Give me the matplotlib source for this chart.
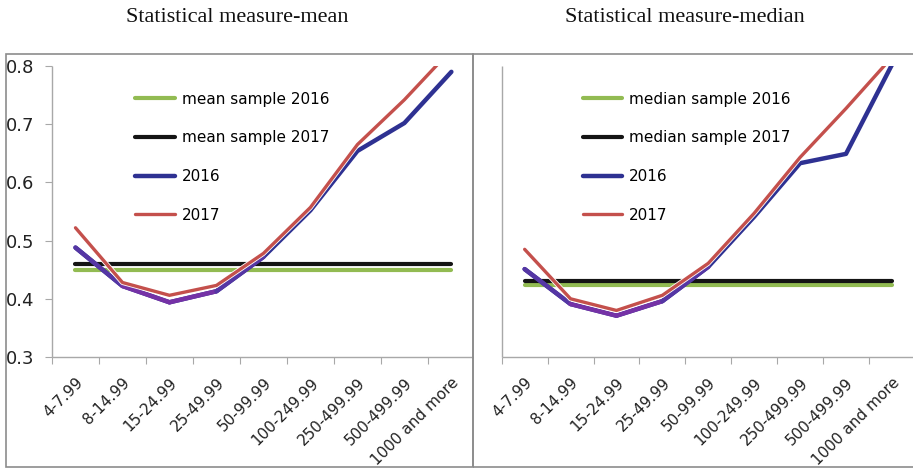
import matplotlib.pyplot as plt
import matplotlib.patheffects as pe
from matplotlib.patches import Rectangle
import numpy as np

categories = ["4-7.99", "8-14.99", "15-24.99", "25-49.99", "50-99.99",
              "100-249.99", "250-499.99", "500-499.99", "1000 and more"]

# mean panel
mean_2016 = [0.488, 0.422, 0.394, 0.413, 0.472, 0.552, 0.654, 0.702, 0.790]
mean_2017 = [0.522, 0.428, 0.406, 0.423, 0.478, 0.557, 0.665, 0.742, 0.828]
mean_sample_2016 = 0.45
mean_sample_2017 = 0.46

# median panel
median_2016 = [0.451, 0.391, 0.371, 0.396, 0.455, 0.541, 0.633, 0.649, 0.802]
median_2017 = [0.485, 0.400, 0.380, 0.406, 0.461, 0.547, 0.643, 0.727, 0.815]
median_sample_2016 = 0.423
median_sample_2017 = 0.430

titles = ["Statistical measure-mean", "Statistical measure-median"]
yticks = [0.3, 0.4, 0.5, 0.6, 0.7, 0.8]

GREEN = "#92bb52"
BLACK = "#141414"
NAVY = "#2e3192"
PURPLE = "#7532a6"
MIX = "#5536a4"
RED = "#c4504c"
W, H = 913, 469

fig = plt.figure(figsize=(W / 100, H / 100), dpi=100)


def px(x0, y0, x1, y1):
    return [x0 / W, 1 - y1 / H, (x1 - x0) / W, (y1 - y0) / H]


def panel(ax, v16, v17, s16, s17, lab16, lab17, show_y):
    x = np.arange(len(categories))
    ax.plot([x[0], x[-1]], [s16, s16], color=GREEN, lw=3, solid_capstyle="round", label=lab16)
    ax.plot([x[0], x[-1]], [s17, s17], color=BLACK, lw=3, solid_capstyle="round", label=lab17)
    ax.plot(x, v16, color=NAVY, lw=3.2, solid_capstyle="round", solid_joinstyle="round", label="2016")
    # colour shift of the 2016 line near its low point
    segcols = [MIX, PURPLE, PURPLE, MIX]
    for i, c in enumerate(segcols):
        ax.plot(x[i:i + 2], v16[i:i + 2], color=c, lw=3.2, solid_capstyle="round")
    ax.plot(x, v17, color=RED, lw=2.4, solid_capstyle="round", solid_joinstyle="round", label="2017",
            path_effects=[pe.Stroke(linewidth=3.6, foreground="white"), pe.Normal()])

    ax.set_xlim(-0.5, 8.46)
    ax.set_ylim(0.3, 0.8)
    for s in ["top", "right"]:
        ax.spines[s].set_visible(False)
    for s in ["left", "bottom"]:
        ax.spines[s].set_color("#a8a8a8")
        ax.spines[s].set_linewidth(1.0)
        ax.spines[s].set_capstyle("butt")

    ax.set_xticks(np.arange(-0.5, 8.0, 1))
    ax.set_xticklabels([])
    ax.set_xticks(x, minor=True)
    ax.set_xticklabels(categories, minor=True, fontsize=11, color="#222222")
    ax.tick_params(axis="x", which="major", length=5, color="#a8a8a8", direction="out")
    ax.tick_params(axis="x", which="minor", length=0, pad=13)
    for lab in ax.get_xticklabels(minor=True):
        lab.set_rotation(45)
        lab.set_ha("right")
        lab.set_va("top")
        lab.set_rotation_mode("anchor")

    ax.set_yticks(yticks)
    if show_y:
        ax.set_yticklabels([f"{v:.1f}" for v in yticks], fontsize=13, color="#222222")
        ax.tick_params(axis="y", length=5, color="#a8a8a8", pad=8)
    else:
        ax.set_yticklabels([])
        ax.tick_params(axis="y", length=0)

    ax.legend(loc="upper left", bbox_to_anchor=(0.197, 0.912), frameon=False, fontsize=11,
              handlelength=2.6, handletextpad=0.45, labelspacing=1.55, borderpad=0,
              borderaxespad=0)


ax1 = fig.add_axes(px(52, 66, 473, 357))
panel(ax1, mean_2016, mean_2017, mean_sample_2016, mean_sample_2017,
      "mean sample 2016", "mean sample 2017", True)
ax2 = fig.add_axes(px(501.7, 66, 913, 357))
panel(ax2, median_2016, median_2017, median_sample_2016, median_sample_2017,
      "median sample 2016", "median sample 2017", False)

# panel frames
for x0, x1 in [(6, 473), (473, 920)]:
    b = px(x0, 54, x1, 467)
    fig.add_artist(Rectangle((b[0], b[1]), b[2], b[3], transform=fig.transFigure,
                             fill=False, edgecolor="#8c8c8c", lw=1.2))

fig.text(237 / W, 1 - 18 / H, titles[0], ha="center", va="center",
         family="Liberation Serif", fontsize=16, color="#111111")
fig.text(685 / W, 1 - 18 / H, titles[1], ha="center", va="center",
         family="Liberation Serif", fontsize=16, color="#111111")

fig.savefig("out.png", dpi=100)
